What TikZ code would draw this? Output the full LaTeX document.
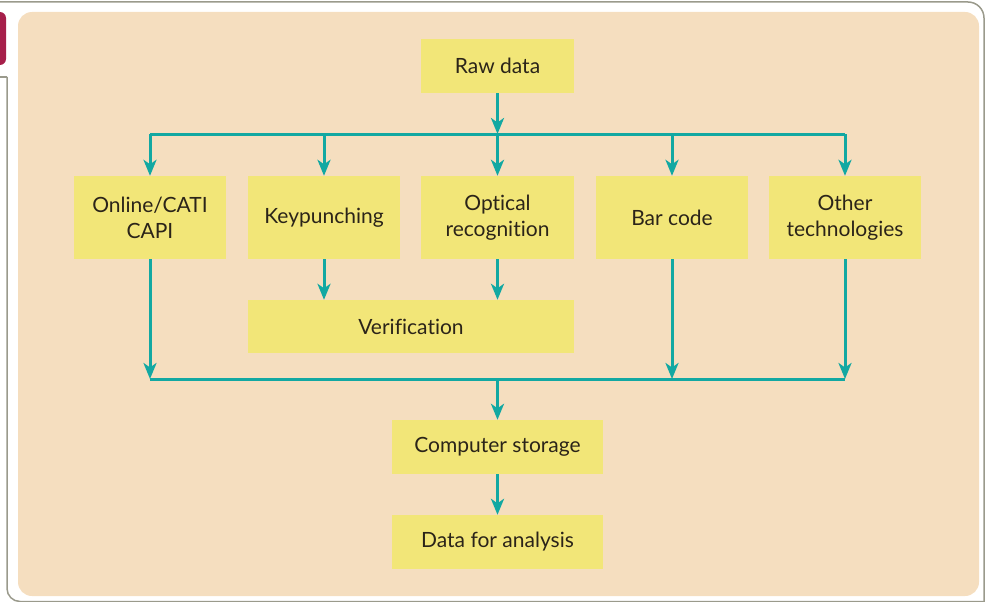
\documentclass[tikz,border=0pt]{standalone}
\usepackage{fontspec}
\setmainfont{Lato}[Ligatures=NoCommon]
\usetikzlibrary{arrows.meta}
\definecolor{panel}{HTML}{F5DEBF}
\definecolor{boxy}{HTML}{F2E678}
\definecolor{teal}{HTML}{12A8A2}
\definecolor{frame}{HTML}{9A9A8C}
\definecolor{maroon}{HTML}{A61F4A}
\definecolor{ink}{HTML}{2B2419}
\tikzset{
  boxnode/.style={fill=boxy, draw=none, inner sep=0pt, align=center, text=ink,
    font=\fontsize{21}{26}\selectfont},
  conn/.style={draw=teal, line width=3pt},
  arr/.style={conn, -{Stealth[length=16pt,width=13pt,inset=4.5pt]}},
}
\begin{document}
\begin{tikzpicture}[x=1pt,y=-1pt]
\useasboundingbox (0,0) rectangle (985,602);
% outer frame
\draw[frame, line width=1.5pt, rounded corners=16pt] (0,2) -- (984,2) -- (984,660);
\draw[frame, line width=1.5pt] (0,77) -- (7,77);
\draw[frame, line width=1.5pt, rounded corners=13pt] (7,77) -- (7,601.5) -- (1000,601.5);
\fill[maroon, rounded corners=6pt] (-10,12) rectangle (6,65);
% panel
\fill[panel, rounded corners=14pt] (18,12) rectangle (979,596);
% nodes
\node[boxnode, minimum width=153pt, minimum height=54pt] (raw) at (497.5,66) {Raw data};
\node[boxnode, minimum width=152pt, minimum height=83pt] (online) at (150,217.5) {Online/CATI\\CAPI};
\node[boxnode, minimum width=152pt, minimum height=83pt] (key) at (324,217.5) {Keypunching};
\node[boxnode, minimum width=153pt, minimum height=83pt] (opt) at (497.5,217.5) {Optical\\recognition};
\node[boxnode, minimum width=152pt, minimum height=83pt] (bar) at (672,217.5) {Bar code};
\node[boxnode, minimum width=152pt, minimum height=83pt] (other) at (845,217.5) {Other\\technologies};
\node[boxnode, minimum width=326pt, minimum height=53pt] (verif) at (411,326.5) {Verification};
\node[boxnode, minimum width=211pt, minimum height=54pt] (storage) at (497.5,447) {Computer storage};
\node[boxnode, minimum width=211pt, minimum height=54pt] (analysis) at (497.5,542) {Data for analysis};
\coordinate (topbus) at (497.5,134);
\coordinate (botbus) at (497.5,379);
% top distribution
\draw[conn] (online.north |- topbus) -- (other.north |- topbus);
\draw[arr] (raw.south) -- (topbus);
\foreach \n in {online,key,opt,bar,other}
  \draw[arr] (\n.north |- topbus) -- (\n.north);
\draw[arr] (key.south) -- (key.south |- verif.north);
\draw[arr] (opt.south) -- (opt.south |- verif.north);
% bottom collection
\draw[conn] (online.south |- botbus) -- (other.south |- botbus);
\foreach \n in {online,bar,other}
  \draw[arr] (\n.south) -- (\n.south |- botbus);
\draw[arr] (botbus) -- (storage.north);
\draw[arr] (storage.south) -- (analysis.north);
\end{tikzpicture}
\end{document}
